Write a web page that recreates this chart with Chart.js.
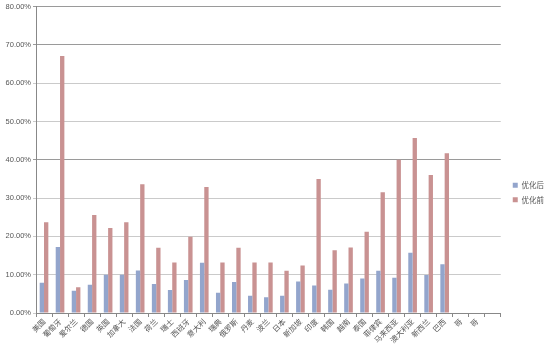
<!DOCTYPE html>
<html>
<head>
<meta charset="utf-8">
<script src="https://cdn.jsdelivr.net/npm/chart.js@4"></script>
<style>
  html, body { margin: 0; background: #fff; }
  #wrap { width: 554px; height: 351px; }
</style>
</head>
<body>
<div id="wrap"><canvas id="c"></canvas></div>
<script>
'use strict';

// ── Data (percent) ──────────────────────────────────────────────────────────
var countries = ['美国', '葡萄牙', '爱尔兰', '德国', '英国', '加拿大', '法国', '荷兰', '瑞士',
  '西班牙', '意大利', '瑞典', '俄罗斯', '丹麦', '波兰', '日本', '新加坡', '印度', '韩国',
  '越南', '泰国', '菲律宾', '马来西亚', '澳大利亚', '新西兰', '巴西', '哥', '哥', ''];

var afterOpt = [7.9, 17.2, 5.8, 7.4, 10.0, 10.0, 11.1, 7.6, 6.0, 8.6, 13.1, 5.3, 8.1, 4.5,
  4.1, 4.5, 8.2, 7.2, 6.1, 7.7, 9.0, 11.0, 9.2, 15.7, 9.9, 12.7, null, null, null];

var beforeOpt = [23.7, 67.1, 6.75, 25.6, 22.2, 23.7, 33.6, 17.0, 13.2, 19.9, 32.9, 13.2, 17.0,
  13.2, 13.2, 11.0, 12.4, 35.0, 16.4, 17.1, 21.2, 31.5, 40.0, 45.7, 36.0, 41.7, null, null, null];

var seriesNames = ['优化后', '优化前'];

var BLUE = '#93a5cc';
var RED  = '#c99292';
var TEXT = '#555';
var CJK  = '"Noto Sans CJK SC", sans-serif';
var LAT  = '"Liberation Sans", Arial, sans-serif';

// ── Leave a small gap between plot area and legend ──────────────────────────
var trimRight = {
  id: 'trimRight',
  afterLayout: function (chart) {
    var gap = 5;
    var a = chart.chartArea, x = chart.scales.x;
    a.right -= gap; a.width -= gap;
    x.right -= gap; x.width -= gap;
    x.configure();
  }
};

new Chart(document.getElementById('c').getContext('2d'), {
  type: 'bar',
  data: {
    labels: countries,
    datasets: [
      { label: seriesNames[0], data: afterOpt,  backgroundColor: BLUE, borderWidth: 0 },
      { label: seriesNames[1], data: beforeOpt, backgroundColor: RED,  borderWidth: 0 }
    ]
  },
  options: {
    responsive: true,
    maintainAspectRatio: false,
    animation: false,
    layout: { padding: { left: 0, top: 2, right: 0, bottom: 0 } },
    datasets: { bar: { categoryPercentage: 0.54, barPercentage: 1 } },
    plugins: {
      tooltip: { enabled: false },
      legend: {
        position: 'right',
        title: { display: true, text: ' ', font: { size: 10, lineHeight: 1 }, padding: { top: 22, bottom: 0 } },
        labels: {
          boxWidth: 5, boxHeight: 5, padding: 7,
          color: TEXT,
          font: { family: CJK, size: 7.5 }
        }
      }
    },
    scales: {
      x: {
        grid: { drawOnChartArea: false, tickLength: 4, color: '#888' },
        border: { color: '#888' },
        ticks: {
          autoSkip: false, maxRotation: 45, minRotation: 45, padding: 0,
          color: TEXT, font: { family: CJK, size: 7.5 }
        },
        afterFit: function (s) { s.height = 38; }
      },
      y: {
        min: 0, max: 80,
        ticks: {
          stepSize: 10, padding: 2, color: TEXT,
          font: { family: LAT, size: 7.5 },
          callback: function (v) { return v.toFixed(2) + '%'; }
        },
        grid: {
          tickLength: 3,
          color: function (ctx) {
            var v = ctx.tick && ctx.tick.value;
            return (v === 40 || v === 70 || v === 80) ? '#9a9a9a' : '#cacaca';
          }
        },
        border: { color: '#888' },
        afterFit: function (s) { s.width = 36; }
      }
    }
  },
  plugins: [trimRight]
});
</script>
</body>
</html>
